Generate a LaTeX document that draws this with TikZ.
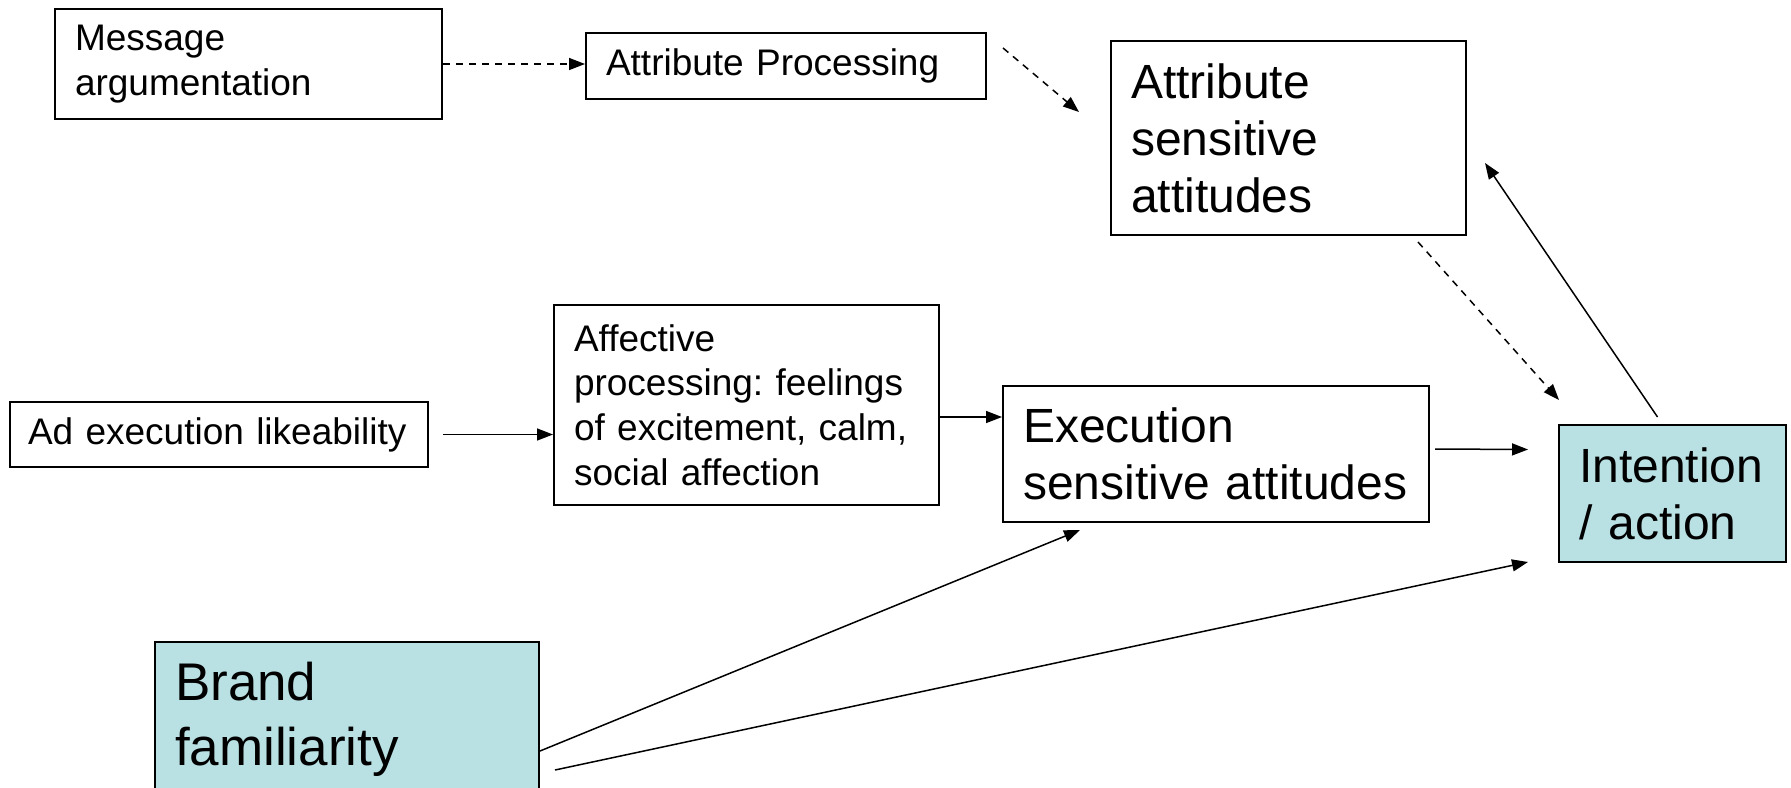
\documentclass[tikz,border=0pt]{standalone}
\usepackage{fontspec}
\setmainfont{Liberation Sans}
\usetikzlibrary{arrows.meta,calc}
\definecolor{famblue}{RGB}{185,224,227}
\hyphenpenalty=10000
\frenchspacing

\begin{document}
\begin{tikzpicture}[
    x=0.5pt, y=-0.5pt,
    box/.style={draw, line width=1pt, anchor=north west, align=left,
      inner xsep=10pt, inner ysep=0pt, font=\fontsize{18.5}{22.3}\selectfont},
    bigbox/.style={box, font=\fontsize{24}{28.5}\selectfont},
    arrow/.style={-{Triangle[length=8pt,width=6pt]}, line width=0.75pt},
    dasharrow/.style={arrow, dash pattern=on 3.5pt off 3pt}
  ]
    \useasboundingbox (0,0) rectangle (1791,787);
    \node[box, text width=173.5pt, minimum height=55pt] (msg) at (54,8) {Message\\argumentation};
    \node[box, text width=180pt, minimum height=33pt] (ap) at (585,32) {Attribute Processing};
    \node[bigbox, text width=157.5pt, minimum height=97pt] (att) at (1110,40) {Attribute\\sensitive\\attitudes};
    \node[box, inner xsep=9pt, text width=191pt, minimum height=32.5pt] (adexec) at (9,401) {Ad execution likeability};
    \node[box, text width=172.5pt, minimum height=100pt] (affect) at (553,304) {Affective\\processing: feelings\\of excitement, calm,\\social affection};
    \node[bigbox, text width=193pt, minimum height=68pt] (exec) at (1002,385) {Execution\\sensitive attitudes};
    \node[bigbox, fill=famblue, text width=93.5pt, minimum height=68.5pt] (intent) at (1558,424) {Intention\\/ action};
    \node[box, fill=famblue, font=\fontsize{26.5}{32.5}\selectfont, text width=172pt, minimum height=77pt] (brand) at (154,641) {Brand\\familiarity};

    \draw[dasharrow] (msg.east) -- (msg.east -| ap.west);
    \draw[dasharrow] ($(ap.north east)+(16,16)$) -- ($(att.north west)+(-31,72)$);
    \draw[dasharrow] ($(att.south east)+(-49,6)$) -- ($(intent.north west)+(1,-24)$);
    \draw[arrow] ($(intent.north)+(-15,-7)$) -- ($(att.east)+(18,25)$);
    \draw[arrow] ($(adexec.east)+(14,0)$) -- (adexec.east -| affect.west);
    \draw[arrow] ($(affect.east)+(0,12)$) -- ($(exec.west)+(0,-37)$);
    \draw[arrow] ($(exec.east)+(5,-5)$) -- ($(intent.west)+(-30,-44)$);
    \draw[arrow] ($(brand.east)+(0,32)$) -- ($(exec.south)+(-136,7)$);
    \draw[arrow] ($(brand.east)+(15,51)$) -- ($(intent.south west)+(-30,-1)$);
  \end{tikzpicture}
\end{document}
